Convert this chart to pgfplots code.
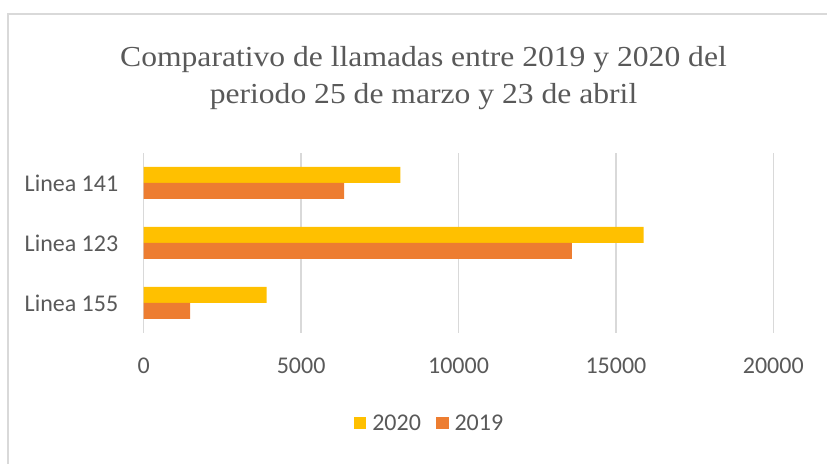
\documentclass[border=0pt]{standalone}
\usepackage{pgfplots}
\pgfplotsset{compat=1.18}
\usepackage{fontspec}
\setmainfont{Carlito}
\newfontfamily\titlefont{Liberation Serif}
\definecolor{c2020}{HTML}{FFC000}
\definecolor{c2019}{HTML}{ED7D31}
\definecolor{txtgray}{HTML}{595959}
\definecolor{gridgray}{HTML}{D9D9D9}
\begin{document}
\begin{tikzpicture}[x=1bp,y=1bp]
\path[use as bounding box] (0,0) rectangle (827,464);
\draw[gridgray, line width=2bp] (8,0) -- (8,450) -- (827,450);
\node[anchor=base, text=txtgray, font=\titlefont\fontsize{29bp}{32bp}\selectfont, inner sep=0pt] at (423.5,397.3) {\scalebox{1.09}[1]{Comparativo de llamadas entre 2019 y 2020 del}};
\node[anchor=base, text=txtgray, font=\titlefont\fontsize{29bp}{32bp}\selectfont, inner sep=0pt] at (423.5,360) {\scalebox{1.09}[1]{periodo 25 de marzo y 23 de abril}};
\begin{axis}[
  at={(143.7bp,131bp)}, anchor=south west,
  scale only axis, width=629.6bp, height=180bp,
  xbar, bar width=16bp,
  xmin=0, xmax=20000, ymin=-0.5, ymax=2.5,
  xtick={0,5000,10000,15000,20000},
  ytick={0,1,2}, yticklabels={Linea 155, Linea 123, Linea 141},
  scaled ticks=false,
  /pgf/number format/set thousands separator={},
  /pgf/number format/assume math mode=true,
  axis line style={draw=none},
  tick style={draw=none},
  xmajorgrids,
  major grid style={color=gridgray, line width=1.5bp},
  xticklabel style={font=\fontsize{24bp}{28bp}\selectfont, text=txtgray, inner sep=0pt, yshift=-25bp},
  yticklabel style={font=\fontsize{24bp}{28bp}\selectfont, text=txtgray, inner sep=0pt, xshift=-21bp},
  legend style={at={(rel axis cs:0.4538,-0.5)}, anchor=center, draw=none, fill=none,
    font=\fontsize{24bp}{28bp}\selectfont, text=txtgray, inner sep=0pt,
    nodes={inner sep=2bp},
    /tikz/every odd column/.append style={column sep=4bp},
    /tikz/every even column/.append style={column sep=13bp}},
  legend columns=2,
  legend image code/.code={\fill[#1] (0bp,-6.2bp) rectangle (12.6bp,6.2bp);},
]
\addplot[fill=c2020, draw=none, bar shift=8bp] coordinates {(3907,0) (15883,1) (8151,2)};
\addplot[fill=c2019, draw=none, bar shift=-8bp] coordinates {(1471,0) (13605,1) (6363,2)};
\legend{2020, 2019}
\end{axis}
\end{tikzpicture}
\end{document}
